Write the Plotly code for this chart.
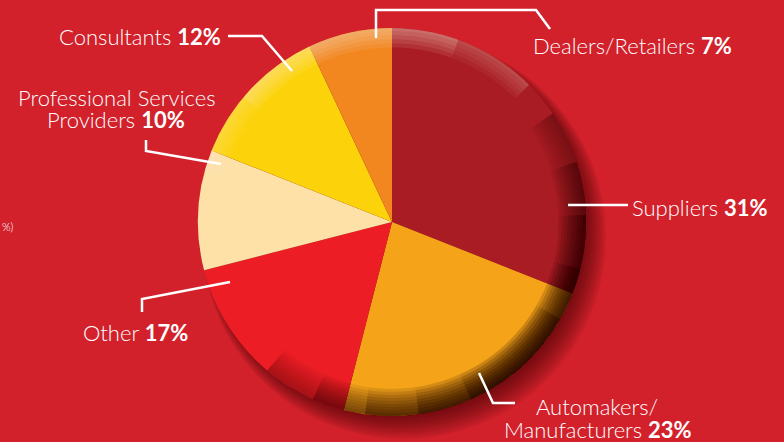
import numpy as np
import plotly.graph_objects as go

# ---- data ----
categories = ["Suppliers", "Automakers/Manufacturers", "Other",
              "Professional Services Providers", "Consultants", "Dealers/Retailers"]
values = [31, 23, 17, 10, 12, 7]
slice_colors = ["#A91C23", "#F5A41A", "#EC1D25", "#FDE1A6", "#FCD30A", "#F2861F"]

W, H = 784, 442
BG = "#D2212B"
CX, CY, R = 392, 222, 194
FONT = "Lato, 'Open Sans', sans-serif"


def px(x, y):
    return x / W, 1 - y / H


def dom(cx, cy, r):
    return dict(x=[(cx - r) / W, (cx + r) / W], y=[1 - (cy + r) / H, 1 - (cy - r) / H])


fig = go.Figure()

# soft drop shadow (stacked translucent discs)
for i in range(10):
    t = i / 9.0
    dx, dy = 4 + 8 * (1 - t), 5 + 10 * (1 - t)
    dr = -4 + 12 * (1 - t)
    fig.add_trace(go.Pie(values=[1], labels=["s"], domain=dom(CX + dx, CY + dy, R + dr),
                         marker=dict(colors=["rgba(45,0,0,0.07)"], line=dict(width=0)),
                         textinfo="none", hoverinfo="skip", showlegend=False, sort=False))

fig.add_trace(go.Pie(
    labels=categories, values=values, sort=False, direction="clockwise", rotation=0,
    marker=dict(colors=slice_colors, line=dict(width=0)),
    textinfo="none", hoverinfo="label+percent", showlegend=False,
    domain=dom(CX, CY, R),
))


# bevel: dark inner rim bottom-right, light rim top
def rim(center_deg, half_width, hole, color):
    span = 2 * half_width
    fig.add_trace(go.Pie(values=[span, 360 - span], labels=["a", "b"], hole=hole, sort=False,
                         direction="clockwise", rotation=center_deg - half_width,
                         marker=dict(colors=[color, "rgba(0,0,0,0)"], line=dict(width=0)),
                         textinfo="none", hoverinfo="skip", showlegend=False,
                         domain=dom(CX, CY, R)))


for hole in np.linspace(0.86, 0.985, 9):
    for hw in [82, 66, 50, 34, 18]:
        rim(138, hw, hole, "rgba(35,0,0,0.04)")
for hole in np.linspace(0.90, 0.985, 5):
    for hw in [60, 35]:
        rim(345, hw, hole, "rgba(255,230,215,0.05)")

# leader lines (pixel coordinates)
leaders = [
    [(376, 38), (376, 10), (536, 10), (550, 29)],
    [(568, 205), (628, 205)],
    [(479, 373), (493, 403), (515, 403)],
    [(230, 282), (142, 299), (142, 312)],
    [(221, 164), (146, 151), (146, 140)],
    [(228, 36), (262, 36), (292, 71)],
]
shapes = []
for pts in leaders:
    path = "M " + " L ".join("%f,%f" % px(x, y) for x, y in pts)
    shapes.append(dict(type="path", xref="paper", yref="paper", path=path,
                       line=dict(color="white", width=2.5)))

labels_txt = [
    ("Dealers/Retailers <b>7%</b>", 531, 46, "left"),
    ("Suppliers <b>31%</b>", 630, 207, "left"),
    ("Automakers/", 597, 406, "center"),
    ("Manufacturers <b>23%</b>", 598, 429, "center"),
    ("Other <b>17%</b>", 135, 332, "center"),
    ("Professional Services", 117, 97, "center"),
    ("Providers <b>10%</b>", 116, 120, "center"),
    ("Consultants <b>12%</b>", 223, 36, "right"),
]
annotations = []
for t, x, y, xa in labels_txt:
    xp, yp = px(x, y)
    annotations.append(dict(text=t, x=xp, y=yp, xref="paper", yref="paper", xanchor=xa,
                            yanchor="middle", showarrow=False,
                            font=dict(family=FONT, size=22, color="white", weight=300)))
xp, yp = px(0, 227)
annotations.append(dict(text="%)", x=xp, y=yp, xref="paper", yref="paper", xanchor="left",
                        yanchor="middle", showarrow=False,
                        font=dict(family=FONT, size=11, color="white", weight=300)))

fig.update_layout(width=W, height=H, margin=dict(l=0, r=0, t=0, b=0),
                  paper_bgcolor=BG, plot_bgcolor=BG, shapes=shapes, annotations=annotations)
fig.write_html("out.html", config={"displayModeBar": False},
               post_script="document.body.style.margin='0';")
